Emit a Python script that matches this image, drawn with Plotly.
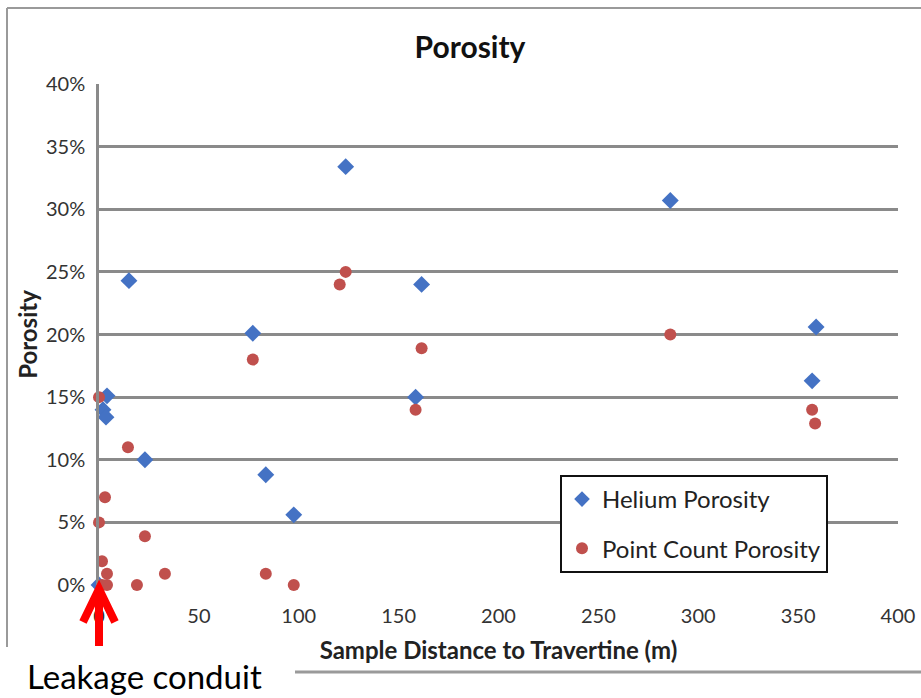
import plotly.graph_objects as go

# Helium porosity (blue diamonds)
helium_x = [0, 2, 3.5, 4, 15, 23, 77, 83.5, 97.5, 123.5, 158.5, 161.5, 286, 357, 359]
helium_y = [0.0, 0.140, 0.134, 0.151, 0.243, 0.100, 0.201, 0.088, 0.056, 0.334, 0.150, 0.240, 0.307, 0.163, 0.206]

# Point count porosity (red circles)
point_x = [0, 0, 1.5, 1.5, 3, 4, 4, 14.5, 19, 23, 33, 77, 83.5, 97.5, 120.5, 123.5, 158.5, 161.5, 286, 357, 358.5]
point_y = [0.150, 0.050, 0.019, 0.0, 0.070, 0.009, 0.0, 0.110, 0.0, 0.039, 0.009, 0.180, 0.009, 0.0, 0.240, 0.250, 0.140, 0.189, 0.200, 0.140, 0.129]

x_ticks = [0, 50, 100, 150, 200, 250, 300, 350, 400]
y_ticks = [0, 0.05, 0.10, 0.15, 0.20, 0.25, 0.30, 0.35, 0.40]

FONT = "Lato, 'Open Sans', sans-serif"
GRID = "#8a8a8a"

fig = go.Figure()
fig.add_trace(go.Scatter(
    x=helium_x, y=helium_y, mode="markers", name="Helium Porosity", legendgroup="a",
    marker=dict(symbol="diamond", size=13, color="#4472C4"),
    cliponaxis=False,
))
fig.add_trace(go.Scatter(
    x=point_x, y=point_y, mode="markers", name="Point Count Porosity", legendgroup="b",
    marker=dict(symbol="circle", size=12, color="#C0504D"),
    cliponaxis=False,
))

fig.update_layout(
    width=921, height=698,
    margin=dict(l=99, r=23, t=84, b=113, autoexpand=False),
    paper_bgcolor="white", plot_bgcolor="white",
    font=dict(family=FONT, color="#333333"),
    title=dict(text="<b>Porosity</b>", x=(470 - 99) / 799, xref="paper", xanchor="center",
               y=1 - 47 / 698, yanchor="middle", font=dict(size=30, color="#111111")),
    showlegend=True,
    legend=dict(
        x=(560 - 99) / 799, y=(585 - 475) / 501, xanchor="left", yanchor="top",
        bordercolor="#111111", borderwidth=2, bgcolor="white",
        font=dict(size=24, color="#222222"),
        itemsizing="constant", tracegroupgap=15,
    ),
    xaxis=dict(
        range=[0, 400], tickvals=x_ticks, ticktext=[str(v) for v in x_ticks],
        showgrid=False, zeroline=False, showline=False,
        tickfont=dict(size=20, color="#333333"), ticks="", ticklabelstandoff=17,
        title=dict(text="<b>Sample Distance to Travertine (m)</b>", font=dict(size=24, color="#222222"), standoff=16),
    ),
    yaxis=dict(
        range=[0, 0.4], tickvals=y_ticks, tickformat=".0%",
        showgrid=True, gridcolor=GRID, gridwidth=2.5,
        zeroline=False, showline=True, linecolor=GRID, linewidth=2.5,
        tickfont=dict(size=20, color="#333333"), ticks="", ticklabelstandoff=7,
        title=dict(text="<b>Porosity</b>", font=dict(size=24, color="#222222"), standoff=2),
    ),
)

# Outer chart border (partially hidden behind the bottom-left caption)
BORDER = "#9a9a9a"
xl = (7 - 99) / 799
yt = (585 - 8) / 501
yb = (585 - 672) / 501
fig.add_shape(type="line", xref="paper", yref="paper", x0=xl, x1=xl, y0=yt, y1=(585 - 647) / 501,
              line=dict(color=BORDER, width=2))
fig.add_shape(type="line", xref="paper", yref="paper", x0=xl, x1=1.2, y0=yt, y1=yt,
              line=dict(color=BORDER, width=2))
fig.add_shape(type="line", xref="paper", yref="paper", x0=(295 - 99) / 799, x1=1.2, y0=yb, y1=yb,
              line=dict(color=BORDER, width=3))

# Leakage conduit arrow (chevron head + shaft), anchored at the plot origin (x=0, y=0)
fig.add_shape(type="path", xref="paper", yref="paper", xsizemode="pixel", ysizemode="pixel",
              xanchor=0, yanchor=0, layer="above",
              path="M -16,-37 L 0,-4 L 16,-37 M 0,-6 L 0,-61",
              line=dict(color="#FF0000", width=8))
fig.add_annotation(x=(25 - 99) / 799, y=(585 - 676) / 501, xref="paper", yref="paper",
                   xanchor="left", yanchor="middle", showarrow=False,
                   text="Leakage conduit", font=dict(size=33, color="#000000", family=FONT))

fig.write_html("out.html", config={"displayModeBar": False},
               post_script="document.body.style.margin='0';document.body.style.overflow='hidden';")
